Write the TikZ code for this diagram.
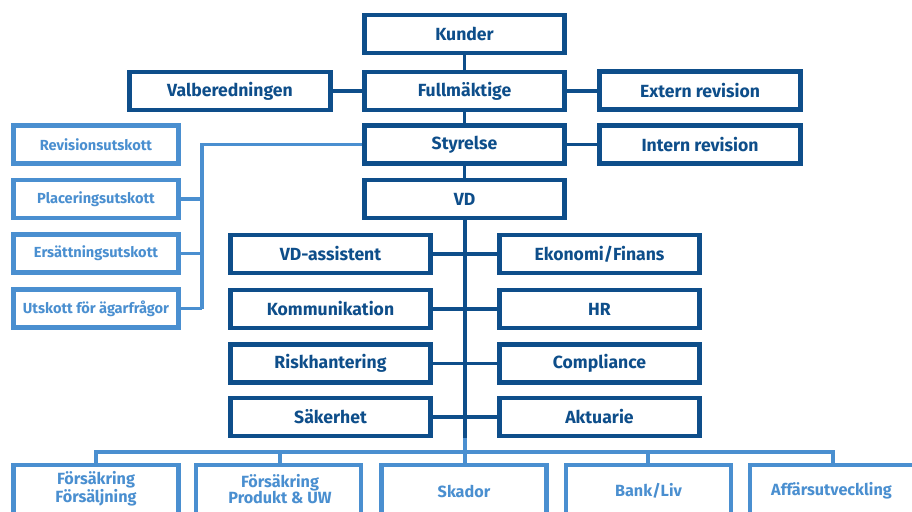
\documentclass[tikz,border=0pt]{standalone}
\usepackage{fontspec}
\setmainfont{Fira Sans}
\definecolor{navy}{HTML}{0E4E8A}
\definecolor{lblue}{HTML}{4A8FD0}
\tikzset{
  darkbox/.style={draw=navy, line width=4.5pt, fill=white, inner sep=0pt,
    minimum width=200pt, minimum height=38pt, text=navy,
    font=\fontsize{17.6}{19}\selectfont\bfseries, align=center},
  lightbox/.style={draw=lblue, line width=4.5pt, fill=white, inner sep=0pt,
    minimum width=165pt, minimum height=38pt, text=lblue,
    font=\fontsize{14.6}{15}\selectfont\bfseries, align=center},
  bottombox/.style={draw=lblue, line width=4.5pt, fill=white, inner sep=0pt,
    minimum width=165pt, minimum height=60pt},
  bottomtext/.style={text=lblue, font=\fontsize{16.2}{16.5}\selectfont\bfseries, align=center, inner sep=0pt},
  darkline/.style={draw=navy, line width=3.5pt},
  lightline/.style={draw=lblue, line width=3.5pt},
}
\begin{document}
\begin{tikzpicture}[x=1pt,y=-1pt]
\clip (0,0) rectangle (912,511);
\useasboundingbox (0,0) rectangle (912,511);
\fill[white] (0,0) rectangle (912,511);
% coordinates for connectors
\coordinate (cj) at (465,438);
\coordinate (bj) at (465,452);
% light connectors (behind)
\draw[lightline] (465,144.5) -- (202,144.5) -- (202,308.5);
\foreach \y in {199,253.5,308.5} \draw[lightline] (96,\y) -- (202,\y);
\draw[lightline] (cj) -- (bj);
\draw[lightline] (96,470) -- (96,452) -- (833,452) -- (833,470);
\foreach \x in {280,465,648} \draw[lightline] (\x,452) -- (\x,470);
% dark connectors
\draw[darkline] (464.5,34) -- (464.5,199);
\draw[darkline] (230,91) -- (700,91);
\draw[darkline] (464.5,144.5) -- (700,144.5);
\draw[darkline] (465,199) -- (cj);
\foreach \y in {254,309,363.5,417} \draw[darkline] (330,\y) -- (600,\y);
% dark boxes
\node[darkbox] (kunder) at (464.5,34) {Kunder};
\node[darkbox] (full) at (464.5,91) {Fullmäktige};
\node[darkbox, minimum width=201pt] (valb) at (230,91) {Valberedningen};
\node[darkbox, minimum width=201pt] (extern) at (700,90.5) {Extern revision};
\node[darkbox] (styr) at (464.5,144.5) {Styrelse};
\node[darkbox, minimum width=201pt] (intern) at (700,144.5) {Intern revision};
\node[darkbox] (vd) at (464.5,199) {VD};
% middle
\node[darkbox] (vda) at (330.5,254) {VD-assistent};
\node[darkbox] (eko) at (599.5,254) {Ekonomi/Finans};
\node[darkbox] (kom) at (330.5,309) {Kommunikation};
\node[darkbox] (hr) at (599.5,309) {HR};
\node[darkbox] (risk) at (330.5,363.5) {Riskhantering};
\node[darkbox] (comp) at (599.5,363.5) {Compliance};
\node[darkbox] (sak) at (330.5,417) {Säkerhet};
\node[darkbox] (akt) at (599.5,417) {Aktuarie};
% committees
\node[lightbox] (rev) at (96,144.5) {Revisionsutskott};
\node[lightbox] (plac) at (96,199) {Placeringsutskott};
\node[lightbox] (ers) at (96,253.5) {Ersättningsutskott};
\node[lightbox] (utsk) at (96,308.5) {Utskott för ägarfrågor};
% bottom
\node[bottombox] (fs) at (96,495) {};
\node[bottombox] (fp) at (278.5,495) {};
\node[bottombox] (skad) at (464,495) {};
\node[bottombox] (bank) at (648.5,495) {};
\node[bottombox, minimum width=172pt] (aff) at (836,495) {};
\node[bottomtext] (fst) at (96,489) {Försäkring\\Försäljning};
\node[bottomtext] (fpt) at (280,489) {Försäkring\\Produkt \& UW};
\node[bottomtext] (skt) at (464,491) {Skador};
\node[bottomtext] (bkt) at (648.5,491) {Bank/Liv};
\node[bottomtext] (aft) at (831.5,491) {Affärsutveckling};
\end{tikzpicture}
\end{document}
